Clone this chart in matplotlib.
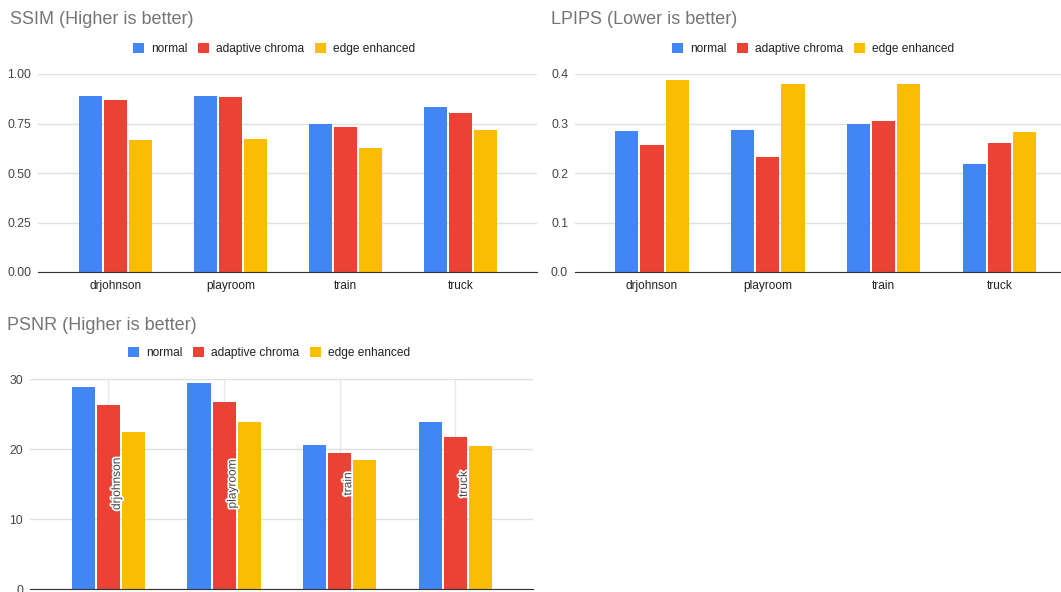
import matplotlib
matplotlib.use("Agg")
import matplotlib.pyplot as plt
import matplotlib.patheffects as pe
from matplotlib.patches import Patch
from matplotlib.ticker import FormatStrFormatter
import numpy as np

scenes = ["drjohnson", "playroom", "train", "truck"]
methods = ["normal", "adaptive chroma", "edge enhanced"]

ssim_normal = [0.890, 0.891, 0.750, 0.835]
ssim_chroma = [0.869, 0.886, 0.731, 0.802]
ssim_edge = [0.666, 0.671, 0.628, 0.718]

lpips_normal = [0.284, 0.287, 0.300, 0.219]
lpips_chroma = [0.257, 0.233, 0.306, 0.261]
lpips_edge = [0.388, 0.379, 0.379, 0.282]

psnr_normal = [28.8, 29.5, 20.6, 23.9]
psnr_chroma = [26.3, 26.7, 19.5, 21.7]
psnr_edge = [22.4, 23.9, 18.4, 20.4]

colors = ["#4285F4", "#EA4335", "#FBBC04"]
plt.rcParams["font.family"] = ["Liberation Sans", "DejaVu Sans"]

W, H = 1061, 592
fig = plt.figure(figsize=(W / 100, H / 100), dpi=100)


def px_axes(left, top, bottom, width):
    # axes placed in pixel coordinates measured from the top-left corner
    return fig.add_axes([left / W, 1 - bottom / H, width / W, (bottom - top) / H])


def bar_panel(ax, series, ymax, yticks, fmt, xlim):
    x = np.arange(len(scenes))
    step, width = 0.217, 0.2
    for k, vals in enumerate(series):
        ax.bar(x + (k - 1) * step, vals, width, color=colors[k], zorder=3)
    ax.set_xlim(*xlim)
    ax.set_ylim(0, ymax)
    ax.set_yticks(yticks)
    ax.yaxis.set_major_formatter(FormatStrFormatter(fmt))
    ax.grid(axis="y", color="#e0e0e0", linewidth=1, zorder=0)
    for s in ["top", "right", "left"]:
        ax.spines[s].set_visible(False)
    ax.spines["bottom"].set_color("#333333")
    ax.spines["bottom"].set_zorder(4)
    ax.tick_params(axis="y", length=0, pad=5, labelsize=8.8, labelcolor="#444444")
    ax.tick_params(axis="x", length=0, pad=6, labelsize=8.6, labelcolor="#222222")
    ax.set_xticks(x)
    ax.set_xticklabels(scenes)


def legend_at(cx, cy):
    handles = [Patch(facecolor=c, edgecolor="none") for c in colors]
    fig.legend(handles, methods, loc="center", bbox_to_anchor=(cx / W, 1 - cy / H),
               ncol=3, frameon=False, fontsize=8.6, handlelength=0.95, handleheight=0.95,
               handletextpad=0.6, columnspacing=0.85, labelcolor="#222222")


title_kw = dict(fontsize=13, color="#757575", ha="left", va="center")

# SSIM
ax1 = px_axes(38, 74, 272, 499)
bar_panel(ax1, [ssim_normal, ssim_chroma, ssim_edge], 1.0,
          [0, 0.25, 0.5, 0.75, 1.0], "%.2f", (-0.674, 3.665))
fig.text(10 / W, 1 - 20 / H, "SSIM (Higher is better)", **title_kw)
legend_at(274, 49)

# LPIPS
ax2 = px_axes(575, 74, 272, 502)
bar_panel(ax2, [lpips_normal, lpips_chroma, lpips_edge], 0.4,
          [0, 0.1, 0.2, 0.3, 0.4], "%.1f", (-0.665, 3.67))
fig.text(551 / W, 1 - 20 / H, "LPIPS (Lower is better)", **title_kw)
legend_at(813, 49)

# PSNR, scene names sit rotated inside the bar groups
ax3 = px_axes(30, 379, 589, 503)
bar_panel(ax3, [psnr_normal, psnr_chroma, psnr_edge], 30,
          [0, 10, 20, 30], "%d", (-0.678, 3.67))
ax3.grid(axis="x", color="#e8e8e8", linewidth=1, zorder=0)
ax3.set_xticklabels([])
trans = matplotlib.transforms.blended_transform_factory(ax3.transData, ax3.transAxes)
for i, name in enumerate(scenes):
    ax3.text(i + 0.073, 0.5, name, transform=trans, rotation=90, ha="center", va="center",
             fontsize=8.6, color="#444444", zorder=5,
             path_effects=[pe.withStroke(linewidth=2.5, foreground="white")])
fig.text(7 / W, 1 - 325 / H, "PSNR (Higher is better)", **title_kw)
legend_at(269, 353)

fig.savefig("out.png", dpi=100)
